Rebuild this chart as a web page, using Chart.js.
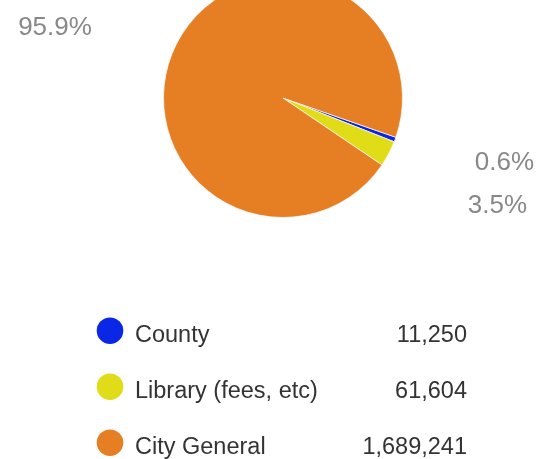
<!DOCTYPE html>
<html>
<head>
<meta charset="utf-8">
<script src="https://cdn.jsdelivr.net/npm/chart.js@4"></script>
<style>
  html, body { margin: 0; padding: 0; background: #fff; overflow: hidden; }
  #wrap { position: absolute; left: 0; top: -22px; width: 539px; height: 481px; }
</style>
</head>
<body>
<div id="wrap"><canvas id="pie"></canvas></div>
<script>
const labels = ['County', 'Library (fees, etc)', 'City General'];
const values = [11250, 61604, 1689241];
const percentLabels = ['0.6%', '3.5%', '95.9%'];
const colors = ['#0b27e6', '#e0dc18', '#e67f24'];

// where the percent labels sit (centre x, baseline y), relative to the pie centre
const labelOffsets = [[221.5, 72], [214.5, 115], [-228, -63]];

const outsideLabels = {
    id: 'outsideLabels',
    afterDraw(chart) {
        const ctx = chart.ctx;
        const arc = chart.getDatasetMeta(0).data[0];
        ctx.save();
        ctx.font = '26px "Liberation Sans", Arial, sans-serif';
        ctx.fillStyle = '#888888';
        ctx.textAlign = 'center';
        ctx.textBaseline = 'alphabetic';
        percentLabels.forEach((t, i) => {
            ctx.fillText(t, arc.x + labelOffsets[i][0], arc.y + labelOffsets[i][1]);
        });

        // legend rows (canvas is shifted up by 22px)
        ctx.font = '23.5px "Liberation Sans", Arial, sans-serif';
        labels.forEach((l, i) => {
            const y = 22 + 330.7 + i * 56;
            ctx.beginPath();
            ctx.arc(110, y, 13.3, 0, Math.PI * 2);
            ctx.fillStyle = colors[i];
            ctx.fill();
            ctx.fillStyle = '#333';
            ctx.textAlign = 'left';
            ctx.fillText(l, 135, y + 11);
            ctx.textAlign = 'right';
            ctx.fillText(values[i].toLocaleString('en-US'), 467, y + 11);
        });
        ctx.restore();
    }
};

const config = {
    type: 'pie',
    data: {
        labels: labels,
        datasets: [{
            data: values,
            backgroundColor: colors,
            borderColor: 'rgba(255,255,255,0.7)',
            borderWidth: 1,
        }]
    },
    options: {
        responsive: true,
        maintainAspectRatio: false,
        animation: false,
        rotation: 109.2,
        layout: {
            padding: { left: 163, right: 136, top: 0, bottom: 241 }
        },
        plugins: {
            legend: { display: false },
            tooltip: { enabled: false },
        }
    },
    plugins: [outsideLabels]
};

new Chart(document.getElementById('pie').getContext('2d'), config);
</script>
</body>
</html>
